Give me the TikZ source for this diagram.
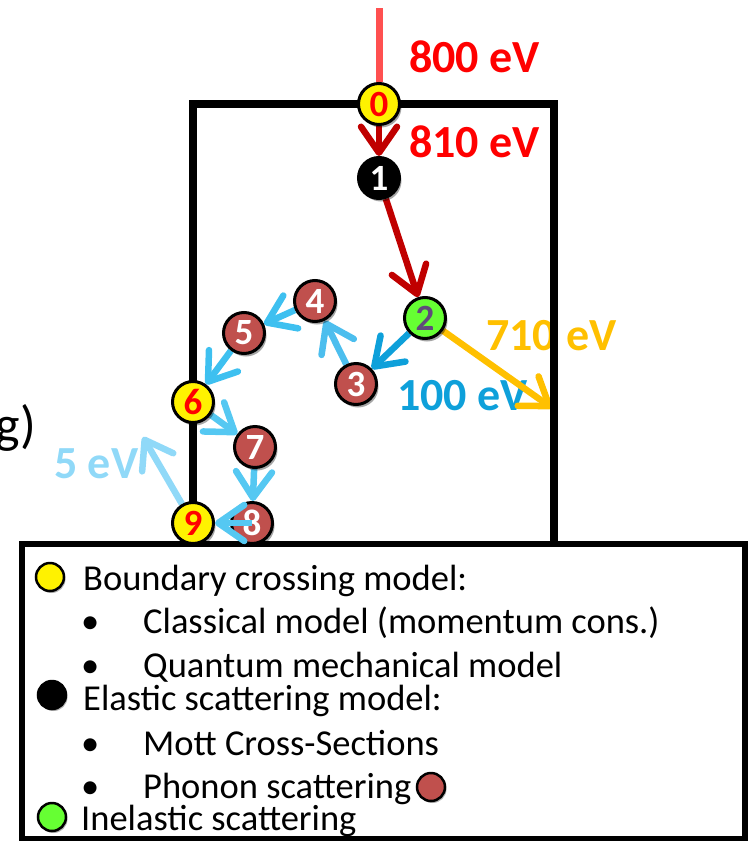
\documentclass[tikz,border=0pt]{standalone}
\usepackage{fontspec}
\setmainfont{Carlito}
\usetikzlibrary{arrows.meta,shadows,backgrounds}

\definecolor{arrRed}{HTML}{C00000}
\definecolor{beamRed}{HTML}{FF5050}
\definecolor{lblRed}{HTML}{FF0000}
\definecolor{lblOrange}{HTML}{FFC000}
\definecolor{lblBlue}{HTML}{0EA0DA}
\definecolor{skyA}{HTML}{4CBEEE}
\definecolor{skyB}{HTML}{3EC0F0}
\definecolor{skyC}{HTML}{55C8F2}
\definecolor{paleSky}{HTML}{90D9F8}
\definecolor{phononRed}{HTML}{C0504D}
\definecolor{inelGreen}{HTML}{66FF33}
\definecolor{numPurple}{HTML}{604A7B}

\tikzset{
  evlabel/.style={font=\fontsize{46}{52}\selectfont\bfseries, anchor=base west, inner sep=0pt},
  legtext/.style={font=\fontsize{36.5}{42}\selectfont, anchor=base west, inner sep=0pt},
  hop/.style={line width=6.5pt, -{Straight Barb[length=26pt,width=36pt,round]}},
  evnode/.style={circle, draw=black, line width=3pt, minimum size=41pt, inner sep=0pt,
    font=\fontsize{37}{37}\selectfont\bfseries,
    drop shadow={shadow xshift=2pt, shadow yshift=-3pt, opacity=0.35, fill=black}},
  phnode/.style={evnode, fill=phononRed, text=white},
  bcnode/.style={evnode, fill=yellow, text=lblRed},
  elnode/.style={evnode, fill=black, text=white},
  inelnode/.style={evnode, fill=inelGreen, text=numPurple},
  legdot/.style={circle, draw=black, line width=2.5pt, minimum size=28pt, inner sep=0pt,
    drop shadow={shadow xshift=1.5pt, shadow yshift=-2pt, opacity=0.3, fill=black}},
}

\begin{document}
\begin{tikzpicture}[x=1pt, y=-1pt]
\useasboundingbox (0,0) rectangle (748,841);

% scattering events along the electron path
\node[bcnode] (n0) at (379,104) {0};
\node[elnode] (n1) at (379,178) {1};
\node[inelnode] (n2) at (425,318) {2};
\node[phnode] (n3) at (356,384) {3};
\node[phnode] (n4) at (315,301) {4};
\node[phnode] (n5) at (244,333) {5};
\node[bcnode] (n6) at (193,402) {6};
\node[phnode] (n7) at (255,447) {7};
\node[phnode] (n8) at (252,523) {8};
\node[bcnode] (n9) at (193,523) {9};

\coordinate (src) at (379,8);
\coordinate (exit710) at (552,408);
\coordinate (exit5) at (143,437);

% the last phonon hop starts inside event 8 and is drawn over it
\draw[hop, skyC] (n8.center) -- (n9);

\begin{scope}[on background layer]
% energy labels
\node[evlabel, text=lblRed] (e800) at (409,72) {800 eV};
\node[evlabel, text=lblRed] (e810) at (409,157) {810 eV};
\node[evlabel, text=lblOrange] (e710) at (486,350) {710 eV};
\node[evlabel, text=lblBlue] (e100) at (397,410) {100 eV};
\node[evlabel, text=paleSky] (e5) at (54,478) {5 eV};
\node[font=\fontsize{52}{60}\selectfont, anchor=base east, inner sep=0pt] (gtail) at (36,442) {g)};

% trajectory segments
\draw[line width=7pt, beamRed] (src) -- (n0);
\draw[hop, arrRed] (n0) -- (n1);
\draw[hop, arrRed] (n1) -- (n2);
\draw[hop, lblOrange] (n2) -- (exit710);
\draw[hop, lblBlue] (n2) -- (n3);
\draw[hop, skyA] (n3) -- (n4);
\draw[hop, skyB] (n4) -- (n5);
\draw[hop, skyB] (n5) -- (n6);
\draw[hop, skyC] (n6) -- (n7);
\draw[hop, skyC] (n7) -- (n8);
\draw[hop, paleSky] (n9) -- (exit5);

% specimen outline
\draw[line width=8pt] (193,544) -- (193,104) -- (554,104) -- (554,544);

% legend panel
\draw[line width=6pt, fill=white] (22,544) rectangle (745,839);
\node[legdot, fill=yellow] (dbc) at (50,577) {};
\node[legdot, fill=black] (del) at (52,695) {};
\node[legdot, fill=inelGreen] (din) at (52,817) {};
\node[legdot, fill=phononRed] (dph) at (431,787) {};
\node[legtext] (t1) at (83,590) {Boundary crossing model:};
\node[legtext] (b1) at (81,633) {•};
\node[legtext] (t2) at (143,633) {Classical model (momentum cons.)};
\node[legtext] (b2) at (81,677) {•};
\node[legtext] (t3) at (143,677) {Quantum mechanical model};
\node[legtext] (t4) at (83,710) {Elastic scattering model:};
\node[legtext] (b3) at (81,755) {•};
\node[legtext] (t5) at (143,755) {Mott Cross-Sections};
\node[legtext] (b4) at (81,798) {•};
\node[legtext] (t6) at (143,798) {Phonon scattering};
\node[legtext] (t7) at (81,830) {Inelastic scattering};
\end{scope}
\end{tikzpicture}
\end{document}
